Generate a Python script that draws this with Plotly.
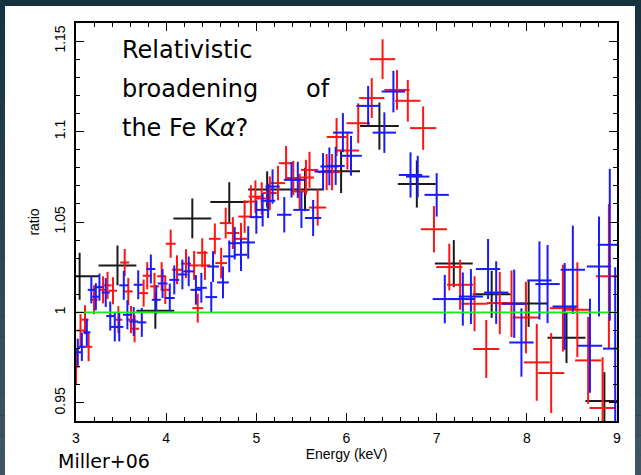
import plotly.graph_objects as go

# ---------------- data: ratio of data to continuum model ----------------
# black spectrum
black_energy = [3.04, 3.46, 3.88, 4.29, 4.70, 5.12, 5.54, 5.94, 6.365, 6.78, 7.19, 7.61, 8.02, 8.44, 8.86]
black_ratio = [1.020, 1.026, 1.001, 1.052, 1.061, 1.068, 1.068, 1.078, 1.103, 1.071, 1.027, 1.010, 1.005, 0.986, 0.951]
black_ewidth = [0.22, 0.21, 0.21, 0.21, 0.21, 0.21, 0.21, 0.21, 0.215, 0.21, 0.21, 0.21, 0.21, 0.21, 0.21]
black_rerr = [0.013, 0.011, 0.010, 0.011, 0.011, 0.010, 0.012, 0.012, 0.013, 0.013, 0.013, 0.013, 0.013, 0.014, 0.016]

# red spectrum
red_energy = [3.00, 3.05, 3.10, 3.14, 3.20, 3.30, 3.35, 3.41, 3.47, 3.54, 3.58, 3.61, 3.65, 3.75, 3.79,
              3.87, 3.95, 3.99, 4.05, 4.12, 4.22, 4.31, 4.35, 4.40, 4.43, 4.54, 4.61, 4.66, 4.74, 4.83,
              4.87, 4.94, 4.99, 5.06, 5.15, 5.24, 5.33, 5.41, 5.48, 5.55, 5.59, 5.68, 5.78, 5.84, 5.89,
              6.01, 6.13, 6.28, 6.40, 6.56, 6.68, 6.85, 6.97, 7.14, 7.26, 7.42, 7.55, 7.70, 7.83, 7.99,
              8.11, 8.27, 8.40, 8.56, 8.68, 8.84, 8.91]
red_ratio = [0.970, 0.990, 0.996, 0.981, 1.007, 1.0125, 1.015, 1.012, 0.996, 1.0276, 1.0116, 0.996, 0.991, 1.0107, 1.0203,
             1.0144, 1.020, 1.0125, 1.038, 1.0236, 1.027, 1.026, 1.0024, 1.033, 1.026, 1.0407, 1.0273, 1.0494, 1.0439, 1.0407,
             1.053, 1.0613, 1.064, 1.063, 1.066, 1.0715, 1.0825, 1.0743, 1.0669, 1.0746, 1.0788, 1.058, 1.0776, 1.0776, 1.097,
             1.0895, 1.1046, 1.1185, 1.140, 1.123, 1.117, 1.1019, 1.046, 1.0251, 1.0153, 1.0048, 0.9798, 1.0052, 1.0048, 0.9972,
             0.9724, 0.9665, 1.0024, 1.0015, 0.9735, 0.9472, 1.020]
red_ewidth = [0.04, 0.04, 0.04, 0.04, 0.04, 0.045, 0.045, 0.045, 0.045, 0.05, 0.05, 0.05, 0.05, 0.05, 0.05,
              0.05, 0.05, 0.05, 0.055, 0.055, 0.055, 0.06, 0.06, 0.06, 0.06, 0.065, 0.065, 0.065, 0.07, 0.07,
              0.07, 0.07, 0.075, 0.075, 0.075, 0.08, 0.08, 0.08, 0.09, 0.09, 0.095, 0.095, 0.10, 0.10, 0.11,
              0.13, 0.13, 0.14, 0.14, 0.14, 0.14, 0.145, 0.145, 0.145, 0.145, 0.145, 0.145, 0.145, 0.145, 0.145,
              0.145, 0.145, 0.145, 0.145, 0.145, 0.145, 0.145]
red_rerr = [0.010, 0.009, 0.008, 0.008, 0.008, 0.0075, 0.0075, 0.0075, 0.0075, 0.0075, 0.0075, 0.0075, 0.0075, 0.0075, 0.0075,
            0.0075, 0.0078, 0.0078, 0.0078, 0.008, 0.008, 0.008, 0.008, 0.008, 0.008, 0.0085, 0.0085, 0.0085, 0.0088, 0.0088,
            0.009, 0.009, 0.009, 0.009, 0.0092, 0.0095, 0.0095, 0.0095, 0.0098, 0.0098, 0.010, 0.010, 0.010, 0.010, 0.0105,
            0.0105, 0.011, 0.011, 0.011, 0.011, 0.0115, 0.012, 0.0128, 0.0129, 0.0138, 0.0152, 0.016, 0.0172, 0.0184, 0.0198,
            0.0212, 0.0221, 0.024, 0.0262, 0.024, 0.028, 0.040]

# blue spectrum
blue_energy = [3.02, 3.065, 3.12, 3.17, 3.22, 3.26, 3.33, 3.38, 3.43, 3.48, 3.53, 3.57, 3.64, 3.69, 3.73,
               3.83, 3.89, 3.96, 4.04, 4.09, 4.18, 4.25, 4.33, 4.39, 4.50, 4.52, 4.63, 4.70, 4.76, 4.83,
               4.91, 5.00, 5.07, 5.13, 5.18, 5.31, 5.39, 5.46, 5.50, 5.63, 5.74, 5.81, 5.88, 5.96, 6.05,
               6.24, 6.42, 6.52, 6.71, 6.79, 7.00, 7.09, 7.29, 7.38, 7.57, 7.66, 7.86, 7.94, 8.14, 8.23,
               8.42, 8.51, 8.70, 8.80, 8.92, 8.98]
blue_ratio = [0.978, 0.981, 0.989, 1.0125, 1.0087, 1.014, 1.011, 0.998, 0.992, 0.992, 1.015, 0.9987, 0.995, 1.0153, 0.9945,
              1.024, 1.007, 1.016, 1.008, 1.018, 1.021, 1.0227, 1.0125, 1.0136, 1.0085, 1.0254, 1.0166, 1.031, 1.0383, 1.0319,
              1.0387, 1.0527, 1.0567, 1.0617, 1.0696, 1.054, 1.0733, 1.0733, 1.0567, 1.0522, 1.0779, 1.0807, 1.081, 1.0994, 1.0866,
              1.1142, 1.0994, 1.1221, 1.076, 1.0751, 1.065, 1.0074, 1.0074, 1.0088, 1.024, 1.011, 1.0048, 0.9834, 1.0177, 1.0157,
              1.0033, 1.0236, 0.9816, 1.0254, 1.0374, 0.980]
blue_ewidth = [0.04, 0.04, 0.04, 0.04, 0.04, 0.045, 0.045, 0.045, 0.045, 0.045, 0.05, 0.05, 0.05, 0.05, 0.05,
               0.05, 0.05, 0.055, 0.055, 0.055, 0.055, 0.06, 0.06, 0.06, 0.065, 0.065, 0.065, 0.07, 0.07, 0.07,
               0.075, 0.075, 0.075, 0.08, 0.08, 0.08, 0.085, 0.085, 0.09, 0.09, 0.095, 0.10, 0.10, 0.11, 0.12,
               0.13, 0.13, 0.13, 0.13, 0.13, 0.135, 0.135, 0.135, 0.135, 0.135, 0.135, 0.135, 0.135, 0.135, 0.135,
               0.135, 0.135, 0.135, 0.135, 0.135, 0.135]
blue_rerr = [0.0075, 0.0078, 0.0075, 0.0075, 0.0075, 0.0075, 0.008, 0.008, 0.008, 0.008, 0.008, 0.008, 0.008, 0.008, 0.008,
             0.008, 0.008, 0.008, 0.008, 0.008, 0.0082, 0.0082, 0.0082, 0.0082, 0.0085, 0.0085, 0.0088, 0.0088, 0.009, 0.009,
             0.009, 0.0092, 0.0092, 0.0095, 0.0095, 0.0098, 0.0098, 0.010, 0.010, 0.010, 0.0102, 0.0105, 0.0105, 0.0108, 0.011,
             0.011, 0.0112, 0.0115, 0.0125, 0.0115, 0.012, 0.0134, 0.0147, 0.0152, 0.0166, 0.0173, 0.0189, 0.0189, 0.0216, 0.0216,
             0.024, 0.0244, 0.026, 0.0276, 0.042, 0.045]

# unity model line
model_energy = [3.0, 9.0]
model_ratio = [1.0, 1.0]

# axis ticks
x_ticks = [3, 4, 5, 6, 7, 8, 9]
y_ticks = [0.95, 1.0, 1.05, 1.1, 1.15]
y_ticktext = ["0.95", "1", "1.05", "1.1", "1.15"]

# ---------------- figure ----------------
W, H = 641, 475
ML, MR, MT, MB = 76, 24, 23, 54
PW, PH = W - ML - MR, H - MT - MB


def px(x):
    return (x - ML) / PW


def py(y):
    return (H - MB - y) / PH


fig = go.Figure()


def add_series(energy, ratio, ewidth, rerr, color):
    fig.add_trace(go.Scatter(
        x=energy, y=ratio, mode="markers",
        marker=dict(size=1.5, color=color),
        error_x=dict(type="data", array=ewidth, color=color, thickness=2, width=0),
        error_y=dict(type="data", array=rerr, color=color, thickness=2, width=0),
        showlegend=False, hoverinfo="skip",
    ))


add_series(black_energy, black_ratio, black_ewidth, black_rerr, "#1a1a1a")
add_series(red_energy, red_ratio, red_ewidth, red_rerr, "#ff1414")
add_series(blue_energy, blue_ratio, blue_ewidth, blue_rerr, "#1a1aff")

fig.add_trace(go.Scatter(
    x=model_energy, y=model_ratio, mode="lines",
    line=dict(color="#10ee10", width=1.8),
    showlegend=False, hoverinfo="skip",
))

# slide background: dark border with a white panel
shapes = []
top_rgb = (22, 50, 63)
bot_rgb = (64, 86, 102)
nband = 24
for i in range(nband):
    f = (i + 0.5) / nband
    c = tuple(int(round(a + (b - a) * f)) for a, b in zip(top_rgb, bot_rgb))
    y0 = H * i / nband
    y1 = H * (i + 1) / nband
    col = "rgb(%d,%d,%d)" % c
    for xa, xb in ((0, 5), (635, W)):
        shapes.append(dict(type="rect", xref="paper", yref="paper",
                           x0=px(xa), x1=px(xb), y0=py(y1), y1=py(y0),
                           fillcolor=col, line=dict(width=0), layer="below"))
shapes.append(dict(type="rect", xref="paper", yref="paper",
                   x0=px(5), x1=px(635), y0=py(H + 5), y1=py(6),
                   fillcolor="white", line=dict(width=0), layer="below"))

axis_font = dict(family="Liberation Sans, Arial, sans-serif", size=14, color="black")
slide_font = "'DejaVu Sans', sans-serif"

annotations = [
    dict(text="Relativistic", x=px(120), y=py(50)),
    dict(text="broadening", x=px(120), y=py(89)),
    dict(text="of", x=px(304), y=py(89)),
    dict(text="the Fe K<i>α</i>?", x=px(120), y=py(128)),
]
for a in annotations:
    a.update(xref="paper", yref="paper", xanchor="left", yanchor="middle",
             showarrow=False, font=dict(family=slide_font, size=24, color="black"))
annotations.append(dict(text="Miller+06", x=px(56), y=py(461), xref="paper", yref="paper",
                        xanchor="left", yanchor="middle", showarrow=False,
                        font=dict(family=slide_font, size=19, color="black")))

fig.update_layout(
    width=W, height=H,
    margin=dict(l=ML, r=MR, t=MT, b=MB),
    paper_bgcolor="rgb(22,50,63)",
    plot_bgcolor="white",
    showlegend=False,
    shapes=shapes,
    annotations=annotations,
    xaxis=dict(
        range=[3, 9], tickvals=x_ticks, ticks="inside", ticklen=8, tickwidth=1.3, tickcolor="black",
        showline=True, linecolor="black", linewidth=1.7, mirror="ticks",
        showgrid=False, zeroline=False,
        minor=dict(dtick=0.2, tick0=3, ticks="inside", ticklen=4, tickwidth=1.2, tickcolor="black", showgrid=False),
        tickfont=axis_font, ticklabelstandoff=3,
        title=dict(text="Energy (keV)", font=axis_font, standoff=4),
    ),
    yaxis=dict(
        range=[0.94, 1.16], tickvals=y_ticks, ticktext=y_ticktext, tickangle=-90,
        ticks="inside", ticklen=8, tickwidth=1.3, tickcolor="black",
        showline=True, linecolor="black", linewidth=1.7, mirror="ticks",
        showgrid=False, zeroline=False,
        minor=dict(dtick=0.01, tick0=0.94, ticks="inside", ticklen=4, tickwidth=1.2, tickcolor="black", showgrid=False),
        tickfont=axis_font, ticklabelstandoff=4,
        title=dict(text="ratio", font=axis_font, standoff=9),
    ),
)

fig.write_html("out.html")
